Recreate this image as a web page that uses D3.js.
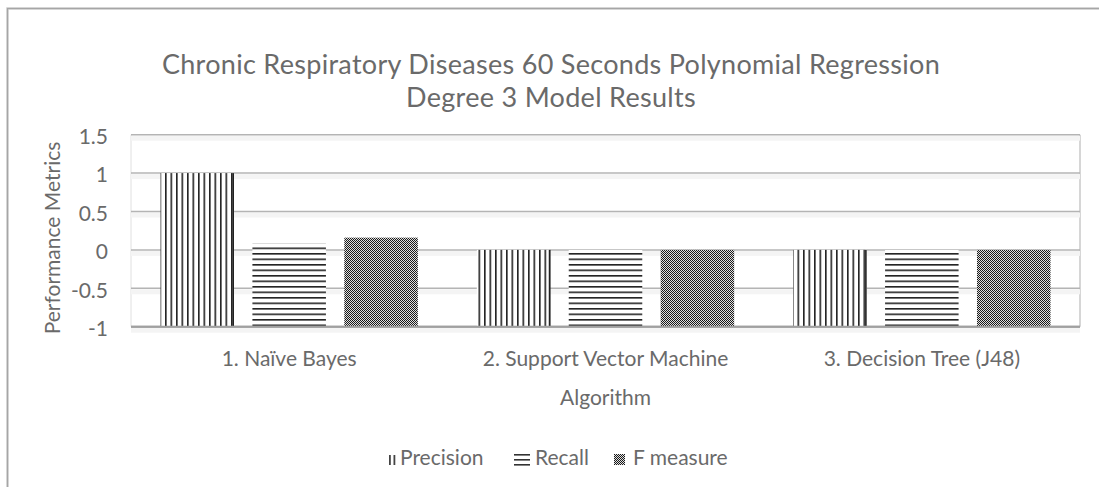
<!DOCTYPE html>
<html>
<head>
<meta charset="utf-8">
<script src="https://cdn.jsdelivr.net/npm/d3@7"></script>
<style>
  html, body { margin: 0; padding: 0; background: #fff; }
  svg { display: block; font-family: Lato, "Open Sans", sans-serif; }
</style>
</head>
<body>
<svg id="chart" width="1099" height="487"></svg>
<script>
// ---- data ----
const categories = ["1. Naïve Bayes", "2. Support Vector Machine", "3. Decision Tree (J48)"];
const seriesNames = ["Precision", "Recall", "F measure"];
const precision = [1, 0, 0];
const recall = [0.08, 0, 0];
const fMeasure = [0.16, 0, 0];
const yTicks = [-1, -0.5, 0, 0.5, 1, 1.5];
const yTickLabels = ["-1", "-0.5", "0", "0.5", "1", "1.5"];
const titleLines = ["Chronic Respiratory Diseases 60 Seconds Polynomial Regression", "Degree 3 Model Results"];
const xTitle = "Algorithm";
const yTitle = "Performance Metrics";

const seriesValues = [precision, recall, fMeasure];

// ---- layout ----
const svg = d3.select("#chart");
const plot = { left: 131, right: 1080, top: 134.7, bottom: 326.7 };
const textColor = "#6a6a6a";

// outer chart border
svg.append("path")
  .attr("d", "M7.5,487 L7.5,8.5 L1099,8.5")
  .attr("fill", "none").attr("stroke", "#e6e6e6").attr("stroke-width", 3);
svg.append("path")
  .attr("d", "M7.5,487 L7.5,8.5 L1099,8.5")
  .attr("fill", "none").attr("stroke", "#a6a6a6").attr("stroke-width", 1.5);

// patterns
const defs = svg.append("defs");
const pv = defs.append("pattern").attr("id", "pat-vert").attr("patternUnits", "userSpaceOnUse")
  .attr("width", 5.5).attr("height", 10);
pv.append("rect").attr("width", 5.5).attr("height", 10).attr("fill", "#fff");
pv.append("rect").attr("x", 0).attr("width", 1.6).attr("height", 10).attr("fill", "#222");

const ph = defs.append("pattern").attr("id", "pat-horiz").attr("patternUnits", "userSpaceOnUse")
  .attr("width", 10).attr("height", 5.5);
ph.append("rect").attr("width", 10).attr("height", 5.5).attr("fill", "#fff");
ph.append("rect").attr("y", 0).attr("width", 10).attr("height", 1.6).attr("fill", "#222");

const pc = defs.append("pattern").attr("id", "pat-check").attr("patternUnits", "userSpaceOnUse")
  .attr("width", 2).attr("height", 2);
pc.append("rect").attr("width", 2).attr("height", 2).attr("fill", "#e0e0e0");
pc.append("rect").attr("x", 0).attr("y", 0).attr("width", 1).attr("height", 1).attr("fill", "#1a1a1a");
pc.append("rect").attr("x", 1).attr("y", 1).attr("width", 1).attr("height", 1).attr("fill", "#1a1a1a");

const fills = ["url(#pat-vert)", "url(#pat-horiz)", "url(#pat-check)"];

// scales
const y = d3.scaleLinear().domain([-1, 1.5]).range([plot.bottom, plot.top]);
const x0 = d3.scaleBand().domain(categories).range([plot.left, plot.right]).paddingInner(0).paddingOuter(0);
const groupPad = 29.5;
const x1 = d3.scaleBand().domain(seriesNames).range([groupPad, x0.bandwidth() - groupPad]).paddingInner(0.2);

// plot area border (left/right)
svg.append("line").attr("x1", plot.left).attr("x2", plot.left).attr("y1", plot.top).attr("y2", plot.bottom)
  .attr("stroke", "#e0e0e0").attr("stroke-width", 1);
svg.append("line").attr("x1", plot.right).attr("x2", plot.right).attr("y1", plot.top).attr("y2", plot.bottom)
  .attr("stroke", "#c8c8c8").attr("stroke-width", 1.5);

// gridlines with soft shadow
const grid = svg.append("g");
grid.selectAll("rect.shadow").data(yTicks).join("rect")
  .attr("class", "shadow")
  .attr("x", plot.left).attr("width", plot.right - plot.left)
  .attr("y", d => y(d) + 1).attr("height", 5)
  .attr("fill", "#f4f4f4");
grid.selectAll("line").data(yTicks).join("line")
  .attr("x1", plot.left).attr("x2", plot.right)
  .attr("y1", d => y(d)).attr("y2", d => y(d))
  .attr("stroke", d => d === -1 ? "#a0a0a0" : "#b4b4b4")
  .attr("stroke-width", d => d === -1 ? 2 : 1.5);

// bars (drawn from the axis at -1 up to the value)
const bars = svg.append("g");
categories.forEach((cat, ci) => {
  seriesNames.forEach((s, si) => {
    const v = seriesValues[si][ci];
    const bx = x0(cat) + x1(s);
    bars.append("rect")
      .attr("x", bx)
      .attr("y", y(v))
      .attr("width", x1.bandwidth())
      .attr("height", y(-1) - y(v))
      .attr("fill", fills[si]);
    if (si === 0) {
      bars.append("line")
        .attr("x1", bx + x1.bandwidth() - 0.8).attr("x2", bx + x1.bandwidth() - 0.8)
        .attr("y1", y(v)).attr("y2", y(-1))
        .attr("stroke", "#222").attr("stroke-width", 1.6);
    }
  });
});

// redraw axis line on top
svg.append("line").attr("x1", plot.left).attr("x2", plot.right)
  .attr("y1", y(-1)).attr("y2", y(-1)).attr("stroke", "#a0a0a0").attr("stroke-width", 2);

// y axis tick labels
const yAxis = d3.axisLeft(y).tickValues(yTicks).tickFormat((d, i) => yTickLabels[i]).tickSize(0).tickPadding(0);
const yg = svg.append("g").attr("transform", `translate(${108},0)`).call(yAxis);
yg.select(".domain").remove();
yg.selectAll("text").attr("font-size", 21).attr("fill", textColor).attr("font-family", "Lato, sans-serif").attr("dy", "0.42em");

// x axis category labels
const xAxis = d3.axisBottom(x0).tickSize(0).tickPadding(0);
const xg = svg.append("g").attr("transform", `translate(0,${366})`).call(xAxis);
xg.select(".domain").remove();
xg.selectAll("text").attr("font-size", 21).attr("fill", textColor).attr("font-family", "Lato, sans-serif").attr("dy", "0");

// title
svg.append("g").selectAll("text").data(titleLines).join("text")
  .attr("x", 551).attr("y", (d, i) => 74 + i * 33)
  .attr("text-anchor", "middle").attr("font-size", 27).attr("letter-spacing", 0.3).attr("fill", textColor)
  .text(d => d);

// axis titles
svg.append("text").attr("x", (plot.left + plot.right) / 2).attr("y", 405)
  .attr("text-anchor", "middle").attr("font-size", 21).attr("fill", textColor).text(xTitle);
svg.append("text").attr("transform", `translate(60,${238}) rotate(-90)`)
  .attr("text-anchor", "middle").attr("font-size", 21).attr("fill", textColor).text(yTitle);

// legend
const legend = svg.append("g");
const legendItems = [
  { name: seriesNames[0], fill: fills[0], x: 389, tx: 400 },
  { name: seriesNames[1], fill: fills[1], x: 514, tx: 535 },
  { name: seriesNames[2], fill: fills[2], x: 614, tx: 633 }
];
legendItems.forEach((it, i) => {
  if (i === 0) {
    legend.append("rect").attr("x", it.x).attr("y", 455).attr("width", 1.8).attr("height", 10).attr("fill", "#444");
    legend.append("rect").attr("x", it.x + 4.5).attr("y", 455).attr("width", 1.8).attr("height", 10).attr("fill", "#444");
  } else if (i === 1) {
    [0, 5, 10].forEach(dy => legend.append("rect").attr("x", it.x).attr("y", 454 + dy).attr("width", 16).attr("height", 1.6).attr("fill", "#333"));
  } else {
    legend.append("rect").attr("x", it.x).attr("y", 454).attr("width", 11).attr("height", 11).attr("fill", it.fill);
  }
  legend.append("text").attr("x", it.tx).attr("y", 465)
    .attr("font-size", 21).attr("fill", textColor).text(it.name);
});
</script>
</body>
</html>
